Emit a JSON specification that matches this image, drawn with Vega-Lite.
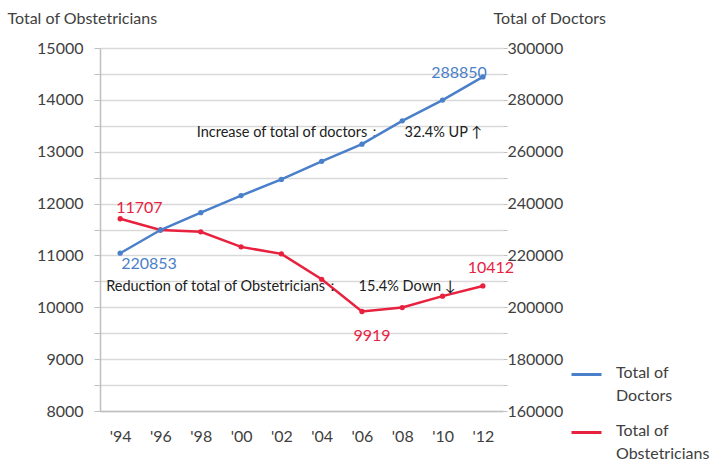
{
  "$schema": "https://vega.github.io/schema/vega-lite/v6.json",
  "width": 403,
  "height": 363,
  "autosize": {"type": "none"},
  "padding": {"left": 100, "top": 48, "right": 224, "bottom": 64},
  "background": "white",
  "config": {
    "view": {"stroke": null},
    "font": "Lato",
    "axis": {"labelFont": "Lato", "titleFont": "Lato", "labelColor": "#404040", "titleColor": "#404040", "titleFontWeight": "normal"},
    "legend": {"labelFont": "Lato"}
  },
  "data": {
    "values": [
      {"year": "'94", "series": "Total of Obstetricians", "value": 11707},
      {"year": "'96", "series": "Total of Obstetricians", "value": 11490},
      {"year": "'98", "series": "Total of Obstetricians", "value": 11455},
      {"year": "'00", "series": "Total of Obstetricians", "value": 11165},
      {"year": "'02", "series": "Total of Obstetricians", "value": 11030},
      {"year": "'04", "series": "Total of Obstetricians", "value": 10540},
      {"year": "'06", "series": "Total of Obstetricians", "value": 9919},
      {"year": "'08", "series": "Total of Obstetricians", "value": 9995},
      {"year": "'10", "series": "Total of Obstetricians", "value": 10215},
      {"year": "'12", "series": "Total of Obstetricians", "value": 10412},
      {"year": "'94", "series": "Total of Doctors", "value": 220853},
      {"year": "'96", "series": "Total of Doctors", "value": 229800},
      {"year": "'98", "series": "Total of Doctors", "value": 236500},
      {"year": "'00", "series": "Total of Doctors", "value": 243100},
      {"year": "'02", "series": "Total of Doctors", "value": 249300},
      {"year": "'04", "series": "Total of Doctors", "value": 256300},
      {"year": "'06", "series": "Total of Doctors", "value": 262900},
      {"year": "'08", "series": "Total of Doctors", "value": 271900},
      {"year": "'10", "series": "Total of Doctors", "value": 279900},
      {"year": "'12", "series": "Total of Doctors", "value": 288850}
    ]
  },
  "encoding": {
    "x": {
      "field": "year",
      "type": "ordinal",
      "sort": ["'94", "'96", "'98", "'00", "'02", "'04", "'06", "'08", "'10", "'12"],
      "scale": {"type": "point", "padding": 0.5},
      "axis": {"title": null, "labelAngle": 0, "labelFontSize": 16, "labelPadding": 17, "ticks": false, "domainColor": "#bfbfbf", "domainWidth": 1.5, "grid": false}
    }
  },
  "layer": [
    {
      "transform": [{"filter": "datum.series == 'Total of Obstetricians'"}],
      "encoding": {
        "y": {
          "field": "value",
          "type": "quantitative",
          "scale": {"domain": [8000, 15000], "nice": false, "zero": false},
          "axis": {
            "orient": "left",
            "values": [8000, 8500, 9000, 9500, 10000, 10500, 11000, 11500, 12000, 12500, 13000, 13500, 14000, 14500, 15000],
            "labelExpr": "datum.value % 1000 == 0 ? format(datum.value, 'd') : ''",
            "labelFontSize": 16,
            "labelPadding": 11,
            "tickSize": 6,
            "tickColor": "#bfbfbf",
            "domainColor": "#bfbfbf",
            "domainWidth": 1.5,
            "grid": true,
            "gridColor": "#d9d9d9",
            "gridWidth": 1.5,
            "title": "Total of Obstetricians",
            "titleAngle": 0,
            "titleAlign": "left",
            "titleBaseline": "middle",
            "titleFontSize": 16,
            "titleX": -93,
            "titleY": -30
          }
        }
      },
      "layer": [
        {
          "mark": {"type": "line", "strokeWidth": 2.5, "point": {"filled": true, "size": 28}},
          "encoding": {
            "color": {
              "field": "series",
              "type": "nominal",
              "scale": {"domain": ["Total of Doctors", "Total of Obstetricians"], "range": ["#4a7fc9", "#e8213f"]},
              "legend": {
                "title": null,
                "orient": "none",
                "legendX": 470,
                "legendY": 310,
                "symbolType": "stroke",
                "symbolSize": 900,
                "symbolStrokeWidth": 3,
                "labelFontSize": 16,
                "labelColor": "#404040",
                "labelBaseline": "top",
                "labelOffset": 13,
                "labelLimit": 200,
                "rowPadding": 12,
                "labelExpr": "datum.label == 'Total of Doctors' ? ['Total of', 'Doctors'] : ['Total of', 'Obstetricians']",
                "encode": {"labels": {"update": {"dy": {"value": -10}, "lineHeight": {"value": 23}}}}
              }
            }
          }
        },
        {
          "transform": [{"filter": "datum.year == \"'94\""}],
          "mark": {"type": "text", "align": "left", "baseline": "middle", "dx": -4, "dy": -11, "fontSize": 16, "color": "#e8213f"},
          "encoding": {"text": {"field": "value", "type": "quantitative", "format": "d"}}
        },
        {
          "transform": [{"filter": "datum.year == \"'06\""}],
          "mark": {"type": "text", "align": "center", "baseline": "middle", "dx": 10, "dy": 25, "fontSize": 16, "color": "#e8213f"},
          "encoding": {"text": {"field": "value", "type": "quantitative", "format": "d"}}
        },
        {
          "transform": [{"filter": "datum.year == \"'12\""}],
          "mark": {"type": "text", "align": "center", "baseline": "middle", "dx": 8, "dy": -18, "fontSize": 16, "color": "#e8213f"},
          "encoding": {"text": {"field": "value", "type": "quantitative", "format": "d"}}
        },
        {
          "data": {"values": [
            {"note": "Increase of total of doctors：\u00a0\u00a0\u00a0\u00a0\u00a0\u00a032.4% UP ↑", "year": "'98", "value": 13370}
          ]},
          "mark": {"type": "text", "align": "left", "baseline": "middle", "dx": -4, "fontSize": 14.5, "color": "#202020"},
          "encoding": {"text": {"field": "note"}}
        },
        {
          "data": {"values": [
            {"note": "Reduction of total of Obstetricians：\u00a0\u00a0\u00a0\u00a0\u00a015.4% Down ↓", "year": "'94", "value": 10400}
          ]},
          "mark": {"type": "text", "align": "left", "baseline": "middle", "dx": -14, "fontSize": 14.5, "color": "#202020"},
          "encoding": {"text": {"field": "note"}}
        }
      ]
    },
    {
      "transform": [{"filter": "datum.series == 'Total of Doctors'"}],
      "encoding": {
        "y": {
          "field": "value",
          "type": "quantitative",
          "scale": {"domain": [160000, 300000], "nice": false, "zero": false},
          "axis": {
            "orient": "right",
            "values": [160000, 170000, 180000, 190000, 200000, 210000, 220000, 230000, 240000, 250000, 260000, 270000, 280000, 290000, 300000],
            "labelExpr": "datum.value % 20000 == 0 ? format(datum.value, 'd') : ''",
            "labelFontSize": 16,
            "labelPadding": 0,
            "tickSize": 4,
            "tickColor": "#bfbfbf",
            "domain": false,
            "grid": false,
            "title": "Total of Doctors",
            "titleAngle": 0,
            "titleAlign": "left",
            "titleBaseline": "middle",
            "titleFontSize": 16,
            "titleX": -10,
            "titleY": -30
          }
        }
      },
      "layer": [
        {
          "mark": {"type": "line", "strokeWidth": 2.5, "point": {"filled": true, "size": 28}},
          "encoding": {"color": {"field": "series", "type": "nominal"}}
        },
        {
          "transform": [{"filter": "datum.year == \"'94\""}],
          "mark": {"type": "text", "align": "left", "baseline": "middle", "dx": 1, "dy": 11, "fontSize": 16, "color": "#4a7fc9"},
          "encoding": {"text": {"field": "value", "type": "quantitative", "format": "d"}}
        },
        {
          "transform": [{"filter": "datum.year == \"'12\""}],
          "mark": {"type": "text", "align": "right", "baseline": "middle", "dx": 4, "dy": -4, "fontSize": 16, "color": "#4a7fc9"},
          "encoding": {"text": {"field": "value", "type": "quantitative", "format": "d"}}
        }
      ]
    }
  ],
  "resolve": {"scale": {"y": "independent"}}
}
